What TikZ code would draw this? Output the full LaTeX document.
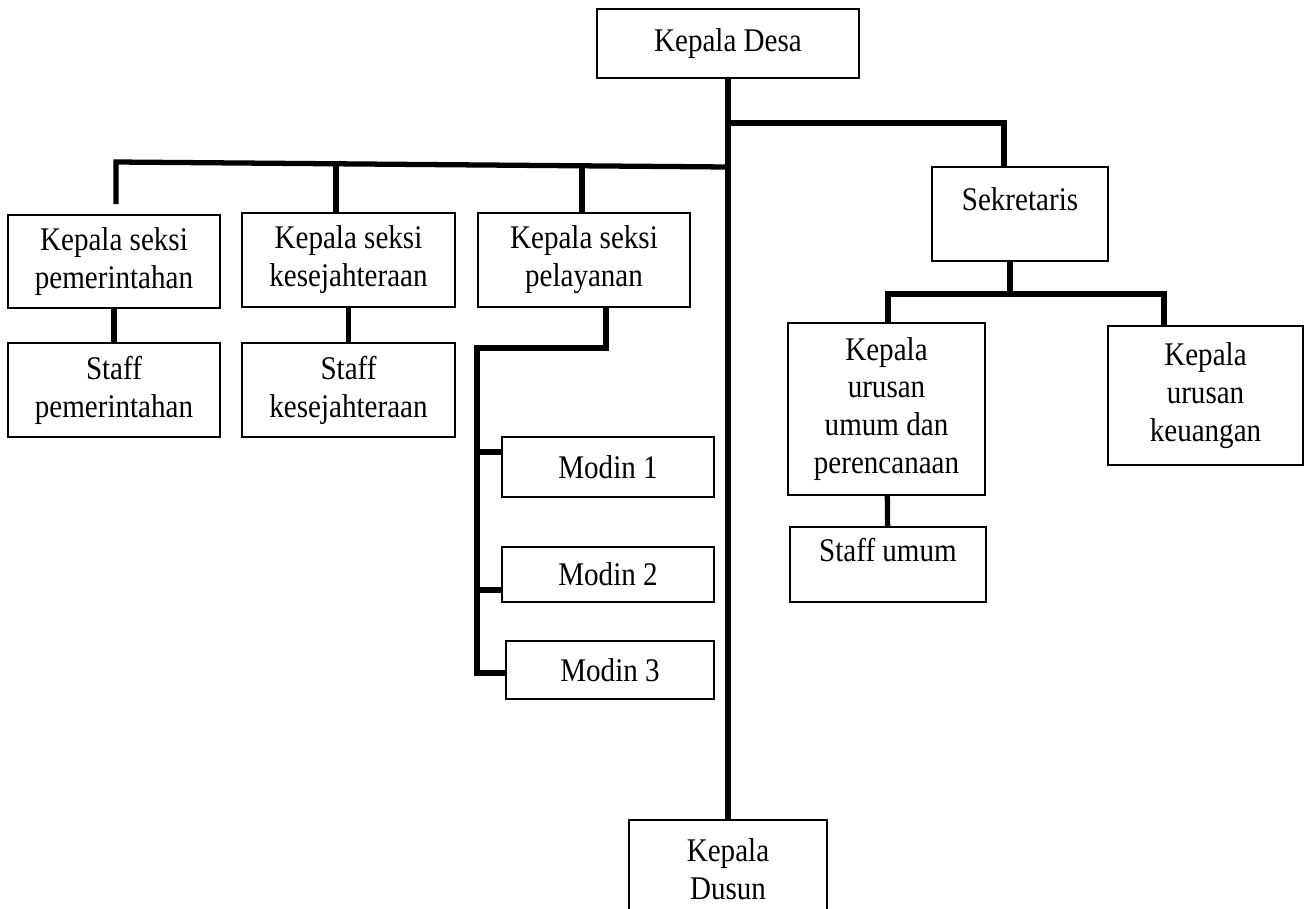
\documentclass[tikz,border=0pt]{standalone}
\usepackage{fontspec}
\setmainfont[FakeStretch=0.88]{Liberation Serif}
\usepackage{tikz}

\begin{document}
\begin{tikzpicture}[box/.style={draw, line width=0.6pt, align=center, inner sep=0pt, font=\fontsize{9.4}{10.8}\selectfont}, link/.style={line width=1.5pt}]
    \useasboundingbox (0, 0) rectangle (13.04, 9.08);

    \node [box, minimum width=2.62cm, minimum height=0.69cm] (kd) at (7.28, 8.645) {Kepala Desa};
    \node [box, minimum width=1.76cm, minimum height=0.94cm] (sk) at (10.20, 6.94) {Sekretaris\\[-2mm] \strut};
    \node [box, minimum width=2.12cm, minimum height=0.93cm] (ksp) at (1.14, 6.465) {Kepala seksi\\ pemerintahan};
    \node [box, minimum width=2.13cm, minimum height=0.94cm] (ksk) at (3.485, 6.48) {Kepala seksi\\ kesejahteraan};
    \node [box, minimum width=2.12cm, minimum height=0.94cm] (ksl) at (5.84, 6.48) {Kepala seksi\\ pelayanan};
    \node [box, minimum width=2.12cm, minimum height=0.94cm] (stp) at (1.14, 5.18) {Staff\\ pemerintahan};
    \node [box, minimum width=2.13cm, minimum height=0.94cm] (stk) at (3.485, 5.18) {Staff\\ kesejahteraan};
    \node [box, minimum width=2.12cm, minimum height=0.60cm] (m1) at (6.08, 4.41) {Modin 1};
    \node [box, minimum width=2.12cm, minimum height=0.55cm] (m2) at (6.08, 3.335) {Modin 2};
    \node [box, minimum width=2.08cm, minimum height=0.58cm] (m3) at (6.10, 2.38) {Modin 3};
    \node [box, minimum width=1.97cm, minimum height=1.72cm] (kuu) at (8.865, 4.99) {Kepala\\ urusan\\ umum dan\\ perencanaan};
    \node [box, minimum width=1.95cm, minimum height=1.39cm] (kuk) at (12.055, 5.125) {Kepala\\ urusan\\ keuangan};
    \node [box, minimum width=1.96cm, minimum height=0.75cm] (stu) at (8.88, 3.435) {Staff umum\\[-2mm] \strut};
    \node [box, minimum width=1.98cm, minimum height=0.98cm] (kdu) at (7.28, 0.39) {Kepala\\ Dusun};

    \coordinate (jr) at (10.04, 7.85);
    \coordinate (jm) at (7.28, 7.41);
    \coordinate (jl) at (1.16, 7.46);
    \coordinate (jl0) at (1.16, 7.04);
    \coordinate (jk) at (3.36, 7.44);
    \coordinate (js) at (5.82, 7.42);
    \coordinate (jp) at (6.06, 5.60);
    \coordinate (jt) at (4.77, 5.60);
    \coordinate (t1) at (4.77, 4.56);
    \coordinate (t2) at (4.77, 3.18);
    \coordinate (t3) at (4.77, 2.35);
    \coordinate (ju) at (10.10, 6.14);
    \coordinate (ja) at (8.88, 6.14);
    \coordinate (jb) at (11.64, 6.14);

    \draw [link] (kd.south) -- (kd.south |- kdu.north);
    \draw [link] (kd.south |- jr) -- (jr) -- (jr |- sk.north);
    \draw [link] (jm) -- (jl) -- (jl0);
    \draw [link] (jk) -- (jk |- ksk.north);
    \draw [link] (js) -- (js |- ksl.north);
    \draw [link] (ksp) -- (stp);
    \draw [link] (ksk) -- (stk);
    \draw [link] (jp |- ksl.south) -- (jp) -- (jt) -- (t3) -- (t3 -| m3.west);
    \draw [link] (t1) -- (t1 -| m1.west);
    \draw [link] (t2) -- (t2 -| m2.west);
    \draw [link] (ju |- sk.south) -- (ju);
    \draw [link] (ja |- kuu.north) -- (ja) -- (jb) -- (jb |- kuk.north);
    \draw [link] (kuu) -- (stu);

\end{tikzpicture}
\end{document}
